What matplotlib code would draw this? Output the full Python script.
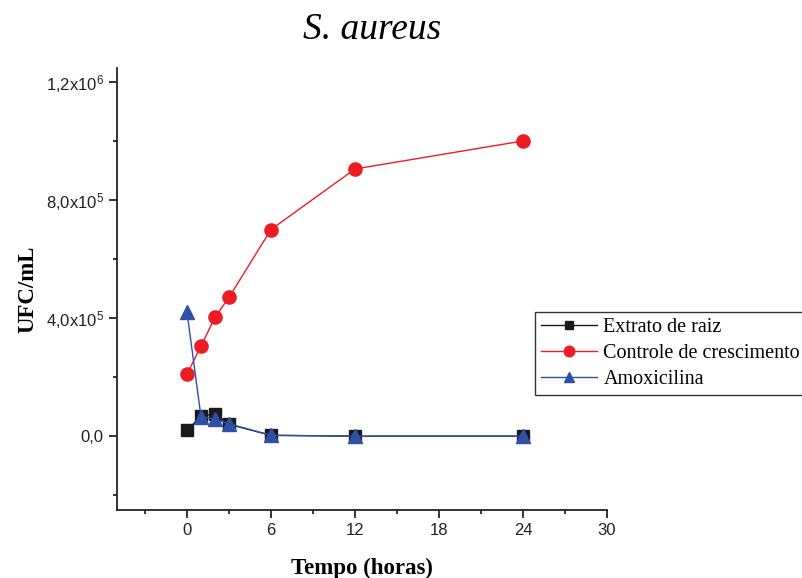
import matplotlib
matplotlib.use("Agg")
import matplotlib.pyplot as plt
from matplotlib.ticker import MultipleLocator, FixedLocator

# dados (UFC/mL ao longo do tempo)
tempo = [0, 1, 2, 3, 6, 12, 24]
extrato = [2.0e4, 6.8e4, 7.6e4, 4.0e4, 3.0e3, 0, 0]
controle = [2.1e5, 3.05e5, 4.03e5, 4.7e5, 7.0e5, 9.05e5, 1.0e6]
amoxicilina = [4.2e5, 6.6e4, 5.8e4, 4.2e4, 3.0e3, 0, 0]

y_ticks = [0, 4e5, 8e5, 1.2e6]
y_tick_labels = ['0,0', '4,0x10$^5$', '8,0x10$^5$', '1,2x10$^6$']
x_ticks = [0, 6, 12, 18, 24, 30]

plt.rcParams['mathtext.fontset'] = 'custom'
plt.rcParams['mathtext.rm'] = 'Liberation Sans'
plt.rcParams['mathtext.it'] = 'Liberation Sans'

fig = plt.figure(figsize=(8.03, 5.78), dpi=100)
ax = fig.add_axes([117 / 803, 1 - 510 / 578, 490 / 803, (510 - 68) / 578])

ax.plot(tempo, controle, color='#ed1c24', marker='o', markersize=9.5, lw=1,
        label='Controle de crescimento', zorder=2)
ax.plot(tempo, extrato, color='#1a1a1a', marker='s', markersize=8, lw=1,
        label='Extrato de raiz', zorder=3)
ax.plot(tempo, amoxicilina, color='#3050a8', marker='^', markersize=9.5, lw=1,
        label='Amoxicilina', zorder=4)

ax.set_xlim(-5, 30)
ax.set_ylim(-2.5e5, 1.247e6)
ax.xaxis.set_major_locator(FixedLocator(x_ticks))
ax.xaxis.set_minor_locator(MultipleLocator(3))
ax.yaxis.set_major_locator(FixedLocator(y_ticks))
ax.yaxis.set_minor_locator(FixedLocator([-2e5, 2e5, 6e5, 1e6]))
ax.set_yticklabels(y_tick_labels)

for s in ['top', 'right']:
    ax.spines[s].set_visible(False)
for s in ['left', 'bottom']:
    ax.spines[s].set_linewidth(1.3)
    ax.spines[s].set_color('#222222')

ax.tick_params(which='major', direction='out', length=6, width=1.3, colors='#222222',
               labelsize=12, labelcolor='#222222')
ax.tick_params(which='minor', direction='out', length=3, width=1.3, colors='#222222')
for lab in ax.get_xticklabels() + ax.get_yticklabels():
    lab.set_fontfamily('Liberation Sans')

ax.set_xlabel('Tempo (horas)', fontsize=16.5, fontweight='bold', family='Liberation Serif', labelpad=14)
ax.set_ylabel('UFC/mL', fontsize=16.5, fontweight='bold', family='Liberation Serif', labelpad=5)
fig.text(372 / 803, 1 - 30 / 578, 'S. aureus', fontsize=27, style='italic',
         family='Liberation Serif', ha='center', va='center')

# ordem da legenda: extrato, controle, amoxicilina
h, l = ax.get_legend_handles_labels()
order = [1, 0, 2]
leg = fig.legend([h[i] for i in order], [l[i] for i in order],
                 loc='upper left', bbox_to_anchor=(535 / 803, 1 - 312 / 578),
                 prop={'family': 'Liberation Serif', 'size': 14.5},
                 frameon=True, fancybox=False, edgecolor='black',
                 borderpad=0.3, labelspacing=0.33, handlelength=2.8,
                 handletextpad=0.3, borderaxespad=0, markerscale=0.8)
leg.get_frame().set_linewidth(1.0)

fig.savefig('out.png', dpi=100)
